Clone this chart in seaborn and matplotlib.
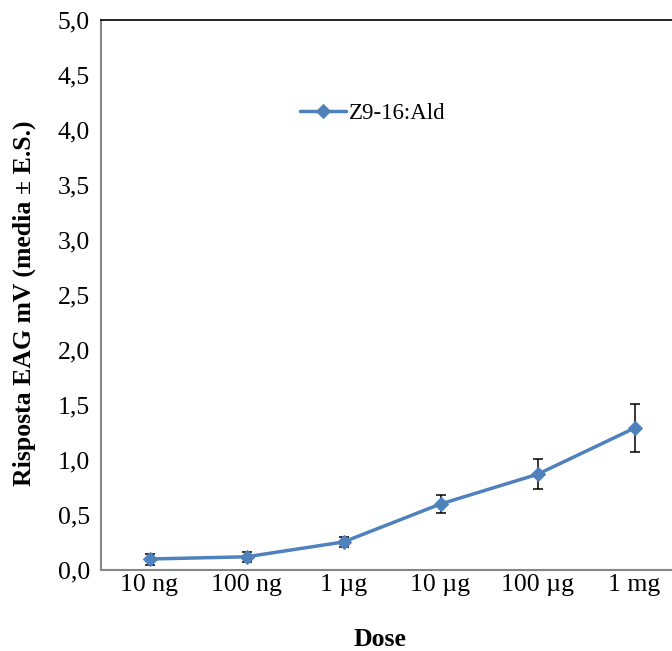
import numpy as np
import pandas as pd
import matplotlib
matplotlib.use('Agg')
import matplotlib.pyplot as plt
import seaborn as sns
from matplotlib.ticker import FuncFormatter, FixedLocator

doses = ['10 ng', '100 ng', '1 µg', '10 µg', '100 µg', '1 mg']
media = [0.10, 0.12, 0.255, 0.60, 0.87, 1.29]
es = [0.05, 0.045, 0.045, 0.085, 0.135, 0.215]
serie = 'Z9-16:Ald'

df = pd.DataFrame({'Dose': doses, 'media': media, 'es': es})

sns.set_style('white')
plt.rcParams['font.family'] = ['Liberation Serif', 'DejaVu Serif']
plt.rcParams['text.color'] = 'black'
plt.rcParams['axes.labelcolor'] = 'black'

fig = plt.figure(figsize=(6.72, 6.51), dpi=100)
ax = fig.add_axes([101/672, 1-570/651, 582/672, 550/651])

blu = '#4F81BD'
ax.errorbar(df['Dose'], df['media'], yerr=df['es'], fmt='none', ecolor='black',
            elinewidth=1.1, capsize=3.5, capthick=1.1, zorder=2)
sns.lineplot(data=df, x='Dose', y='media', ax=ax, color=blu, linewidth=2.5,
             marker='D', markersize=7.5, markeredgecolor=blu, label=serie, zorder=3)

ax.set_xlim(-0.5, 5.5)
ax.set_ylim(0, 5)
ax.set_yticks(np.arange(0, 5.01, 0.5))
ax.yaxis.set_major_formatter(FuncFormatter(lambda v, p: f'{v:.1f}'.replace('.', ',')))

ax.xaxis.set_major_locator(FixedLocator(np.arange(-0.5, 6, 1)))
ax.set_xticklabels([''] * 7)
ax.xaxis.set_minor_locator(FixedLocator(np.arange(6)))
ax.set_xticklabels(doses, minor=True)
ax.tick_params(axis='x', which='minor', length=0, pad=3, labelsize=18.5, labelcolor='black')
ax.tick_params(axis='x', which='major', direction='out', length=5, width=1, color='#868686')
ax.tick_params(axis='y', direction='out', length=5, width=1, color='#868686', labelsize=18.5,
               pad=3, labelcolor='black')

for s in ['left', 'bottom']:
    ax.spines[s].set_color('#868686')
    ax.spines[s].set_linewidth(1.5)
ax.spines['right'].set_visible(False)
ax.spines['top'].set_color('black')
ax.spines['top'].set_linewidth(1.2)

ax.set_ylabel('Risposta EAG mV (media ± E.S.)', fontsize=18.5, fontweight='bold')
ax.yaxis.set_label_coords(-0.112, 0.485)
ax.set_xlabel('Dose', fontsize=18.5, fontweight='bold')
ax.xaxis.set_label_coords((380-101)/582, -(628-570)/550)

ax.legend(loc='center left', bbox_to_anchor=(300/672, 1-113/651), bbox_transform=fig.transFigure,
          frameon=False, fontsize=16.5, borderpad=0, borderaxespad=0, handlelength=2.0,
          handletextpad=0.15)

fig.savefig('out.png', dpi=100)
